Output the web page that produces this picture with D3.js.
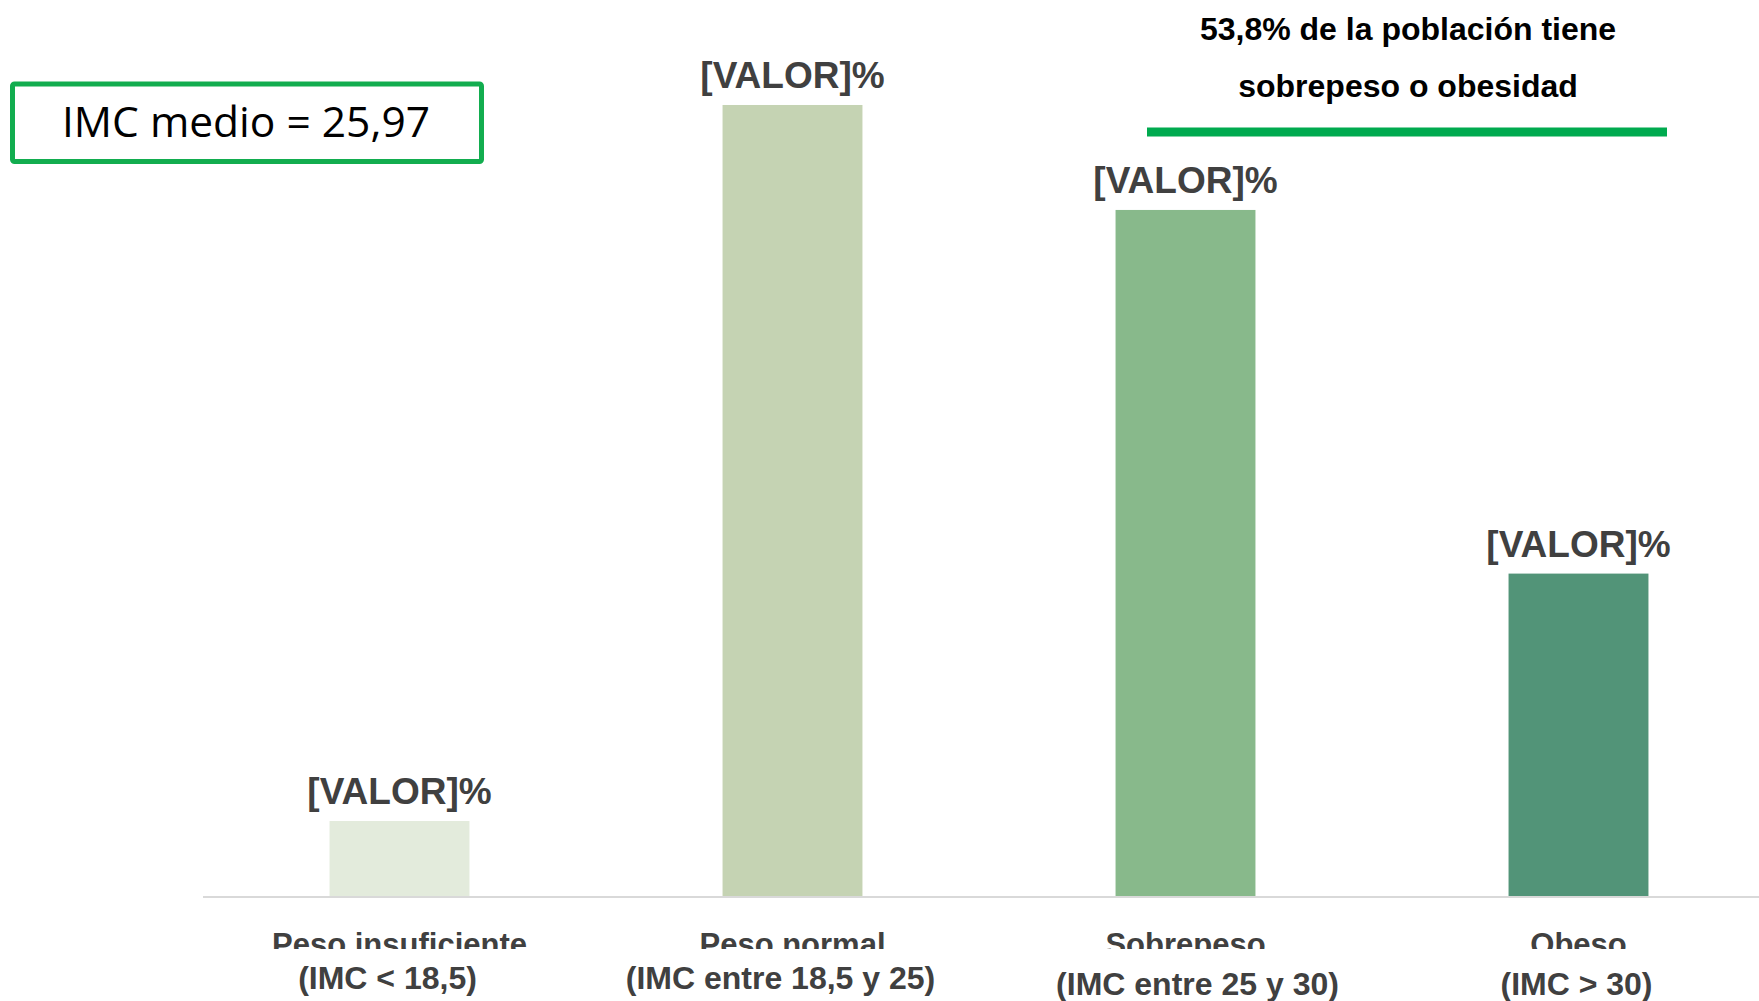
<!doctype html>
<html lang="es">
  <head>
    <meta charset="utf-8" />
    <title>IMC</title>
    <style>
      body { margin: 0; background: #ffffff; }
      svg { display: block; }
    </style>
  </head>
  <body>
    <svg id="chart" width="1759" height="1001"></svg>
    <script src="https://cdn.jsdelivr.net/npm/d3@7"></script>
    <script>
      // data
      var categories = ["Peso insuficiente", "Peso normal", "Sobrepeso", "Obeso"];
      var imcRanges = ["(IMC < 18,5)", "(IMC entre 18,5 y 25)", "(IMC entre 25 y 30)", "(IMC > 30)"];
      var values = [4.0, 42.2, 36.6, 17.2];
      var valueLabel = "[VALOR]%";
      var barColors = ["#e3ebdc", "#c5d3b3", "#88b98b", "#529478"];
      var imcMedio = "IMC medio = 25,97";
      var noteLines = ["53,8% de la población tiene", "sobrepeso o obesidad"];

      var svg = d3.select("#chart");
      var baseline = 896;

      var x = d3.scaleBand()
          .domain(categories)
          .range([203, 1775])
          .paddingInner(0.644)
          .paddingOuter(0.322);

      var y = d3.scaleLinear()
          .domain([0, 45])
          .range([baseline, 52.5]);

      function center(d) { return x(d) + x.bandwidth() / 2; }

      // bars
      svg.selectAll("rect.bar")
          .data(values)
          .enter().append("rect")
          .attr("class", "bar")
          .attr("x", function (d, i) { return x(categories[i]); })
          .attr("y", function (d) { return y(d); })
          .attr("width", x.bandwidth())
          .attr("height", function (d) { return y(0) - y(d); })
          .style("fill", function (d, i) { return barColors[i]; });

      // value labels
      svg.selectAll("text.value")
          .data(values)
          .enter().append("text")
          .attr("class", "value")
          .attr("x", function (d, i) { return center(categories[i]); })
          .attr("y", function (d) { return y(d) - 17; })
          .attr("text-anchor", "middle")
          .style("font-family", "'Liberation Sans', Arial, sans-serif")
          .style("font-weight", "bold")
          .style("font-size", "37px")
          .style("fill", "#404040")
          .text(valueLabel);

      // x axis line
      svg.append("line")
          .attr("x1", x.range()[0])
          .attr("x2", x.range()[1])
          .attr("y1", y(0) + 1)
          .attr("y2", y(0) + 1)
          .style("stroke", "#d9d9d9")
          .style("stroke-width", 2);

      // first line of the category labels is cut at the bottom in the original
      svg.append("clipPath")
          .attr("id", "cut")
          .append("rect")
          .attr("x", 0).attr("y", 900)
          .attr("width", 1759).attr("height", 49);

      svg.append("g")
          .attr("clip-path", "url(#cut)")
          .selectAll("text")
          .data(categories)
          .enter().append("text")
          .attr("x", function (d) { return center(d); })
          .attr("y", 955)
          .attr("text-anchor", "middle")
          .style("font-family", "'Liberation Sans', Arial, sans-serif")
          .style("font-weight", "bold")
          .style("font-size", "31px")
          .style("fill", "#404040")
          .text(function (d) { return d; });

      // second line, not quite centred in the original
      var shift = [-12, -12, 12, -2];
      svg.selectAll("text.range")
          .data(imcRanges)
          .enter().append("text")
          .attr("class", "range")
          .attr("x", function (d, i) { return center(categories[i]) + shift[i]; })
          .attr("y", function (d, i) { return i < 2 ? 989 : 995; })
          .attr("text-anchor", "middle")
          .style("font-family", "'Liberation Sans', Arial, sans-serif")
          .style("font-weight", "bold")
          .style("font-size", "32px")
          .style("fill", "#404040")
          .text(function (d) { return d; });

      // IMC medio box
      svg.append("rect")
          .attr("x", 12.5)
          .attr("y", 84)
          .attr("width", 469)
          .attr("height", 77.5)
          .attr("rx", 2)
          .style("fill", "white")
          .style("stroke", "#12ad4f")
          .style("stroke-width", 5);

      svg.append("text")
          .attr("x", 246)
          .attr("y", 137)
          .attr("text-anchor", "middle")
          .style("font-family", "'Open Sans', sans-serif")
          .style("font-size", "42.5px")
          .style("fill", "#000000")
          .text(imcMedio);

      // note top right
      svg.selectAll("text.note")
          .data(noteLines)
          .enter().append("text")
          .attr("class", "note")
          .attr("x", 1408)
          .attr("y", function (d, i) { return 40 + i * 57; })
          .attr("text-anchor", "middle")
          .style("font-family", "'Liberation Sans', Arial, sans-serif")
          .style("font-weight", "bold")
          .style("font-size", "32px")
          .style("fill", "#000000")
          .text(function (d) { return d; });

      svg.append("line")
          .attr("x1", 1147)
          .attr("x2", 1667)
          .attr("y1", 132)
          .attr("y2", 132)
          .style("stroke", "#00aa4f")
          .style("stroke-width", 9);
    </script>
  </body>
</html>
